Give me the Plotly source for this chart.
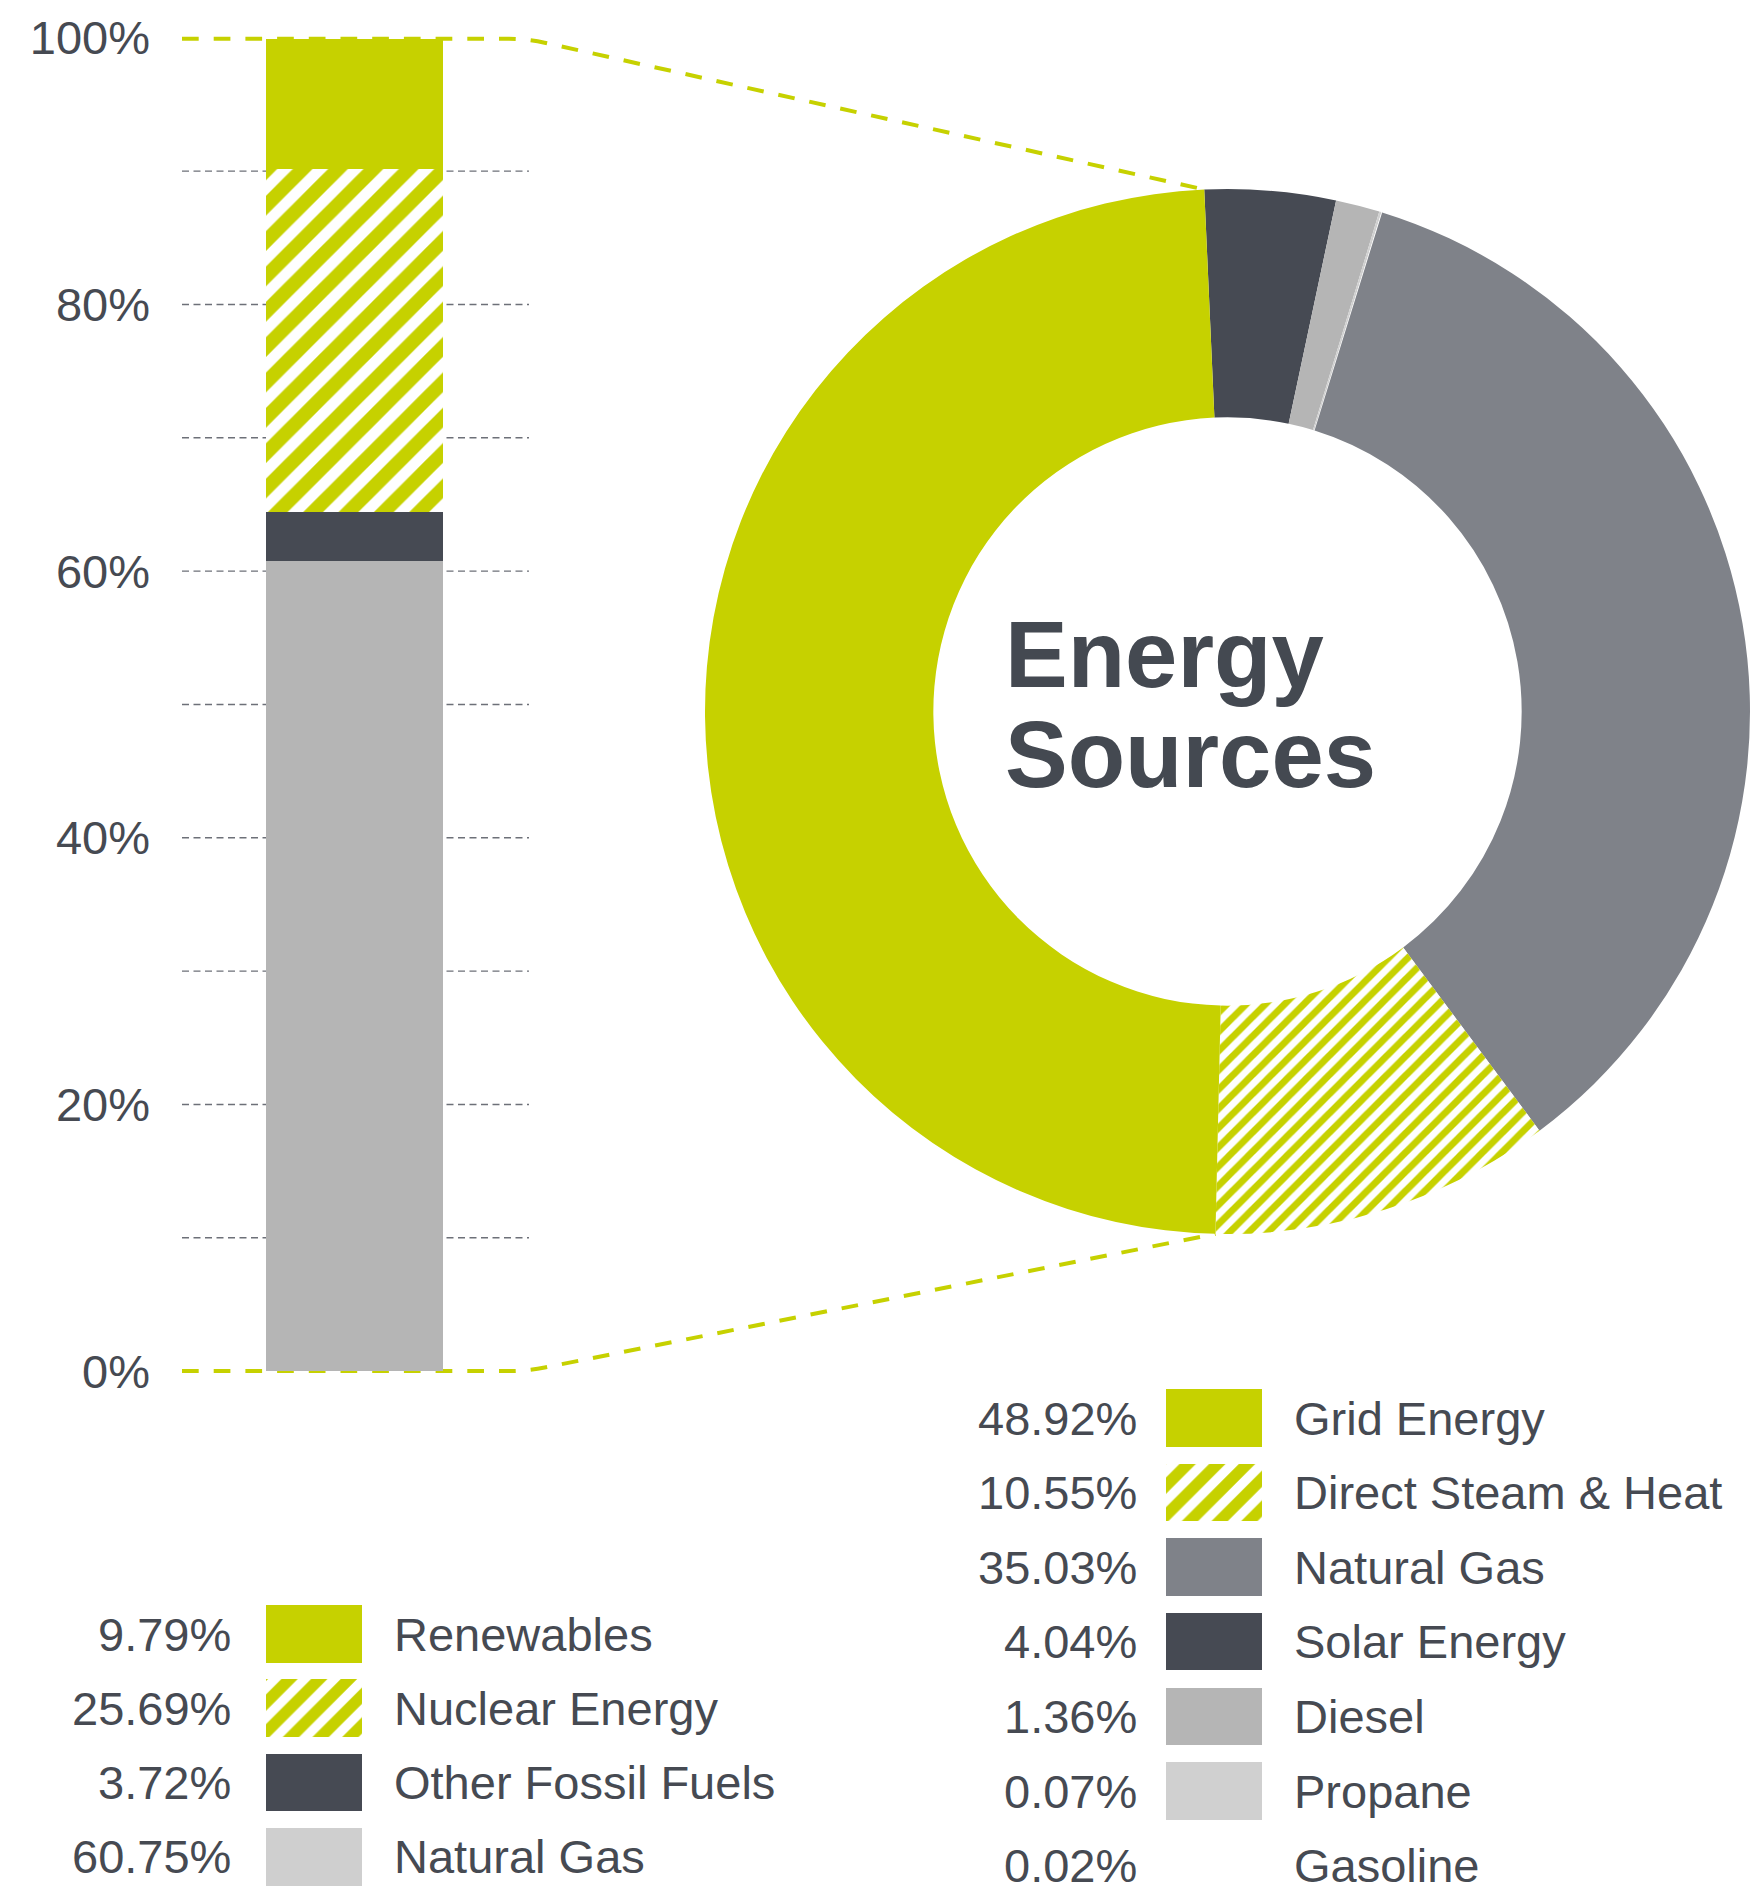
import math
import plotly.graph_objects as go

W, H = 1752, 1888

# ---------------- data ----------------
mix_labels = ["Renewables", "Nuclear Energy", "Other Fossil Fuels", "Natural Gas"]
mix_values = [9.79, 25.69, 3.72, 60.75]

source_labels = ["Grid Energy", "Direct Steam & Heat", "Natural Gas",
                 "Solar Energy", "Diesel", "Propane", "Gasoline"]
source_values = [48.92, 10.55, 35.03, 4.04, 1.36, 0.07, 0.02]

axis_ticks = [0, 20, 40, 60, 80, 100]
axis_tick_labels = ["0%", "20%", "40%", "60%", "80%", "100%"]
grid_levels = [10, 20, 30, 40, 50, 60, 70, 80, 90]

# ---------------- styles ----------------
LIME = "#c6d100"
SLATE = "#464a53"
TEXT = "#464a52"
FONT = "Liberation Sans"

mix_colors = [LIME, LIME, SLATE, "#b5b5b5"]
mix_legend_colors = [LIME, LIME, SLATE, "#cfcfcf"]
mix_hatched = [False, True, False, False]

source_colors = [LIME, LIME, "#7f8289", SLATE, "#b5b5b5", "#d0d0d0", "#ffffff"]
source_hatched = [False, True, False, False, False, False, False]
# clockwise drawing order of the ring, starting just left of 12 o'clock
ring_order = [3, 4, 5, 6, 2, 1, 0]
ring_rotation = -2.55


def px(x, y):
    """pixel position -> paper coordinates"""
    return x / W, 1 - y / H


# stacked bar geometry (pixels)
Y0_PX, Y100_PX = 1371.1, 37.8
X_AXIS_PX = 151
BAR_CENTER, BAR_WIDTH = 354.5, 177

# donut geometry (pixels)
PIE_X0, PIE_X1, PIE_TOP, PIE_BOTTOM = 705, 1750, 189, 1234
pie_dom_x = [PIE_X0 / W, PIE_X1 / W]
pie_dom_y = [1 - PIE_BOTTOM / H, 1 - PIE_TOP / H]

fig = go.Figure()

# ---------------- stacked bar ----------------
stack_order = [3, 2, 1, 0]  # bottom to top
for i in stack_order:
    fig.add_trace(go.Bar(
        x=[BAR_CENTER], y=[mix_values[i]], width=BAR_WIDTH,
        name=mix_labels[i], showlegend=False,
        marker=dict(
            color=mix_colors[i], line=dict(width=0),
            pattern=dict(shape="/" if mix_hatched[i] else "", size=25, solidity=0.56,
                         fgcolor=mix_colors[i], bgcolor="white", fillmode="replace"),
        ),
        xaxis="x", yaxis="y", hoverinfo="name+y",
    ))

# ---------------- donut ----------------
fig.add_trace(go.Pie(
    labels=[source_labels[i] for i in ring_order],
    values=[source_values[i] for i in ring_order],
    sort=False, direction="clockwise", rotation=ring_rotation,
    hole=0.563, textinfo="none", showlegend=False,
    domain=dict(x=pie_dom_x, y=pie_dom_y),
    marker=dict(
        colors=[source_colors[i] for i in ring_order],
        line=dict(width=0),
        pattern=dict(
            shape=["/" if source_hatched[i] else "" for i in ring_order],
            size=13.6, solidity=0.5, fgcolor=LIME, bgcolor="white", fillmode="replace",
        ),
    ),
))

# ---------------- legends (swatches as bars on a pixel axis) ----------------
LEFT_ROW0, LEFT_STEP = 1634, 74.3
RIGHT_ROW0, RIGHT_STEP = 1418, 74.6
SW_W, SW_H = 96, 57.5
LEFT_SW_X, RIGHT_SW_X = 266, 1166
LEFT_VAL_X, LEFT_LAB_X = 233, 392
RIGHT_VAL_X, RIGHT_LAB_X = 1139, 1292

left_rows = [LEFT_ROW0 + k * LEFT_STEP for k in range(len(mix_labels))]
right_rows = [RIGHT_ROW0 + k * RIGHT_STEP for k in range(len(source_labels))]

fig.add_trace(go.Bar(
    orientation="h", y=left_rows, x=[SW_W] * len(mix_labels), base=LEFT_SW_X,
    width=SW_H, showlegend=False, hoverinfo="skip", xaxis="x", yaxis="y2",
    marker=dict(
        color=mix_legend_colors, line=dict(width=0),
        pattern=dict(shape=["/" if h else "" for h in mix_hatched], size=21, solidity=0.55,
                     fgcolor=LIME, bgcolor="white", fillmode="replace"),
    ),
))
fig.add_trace(go.Bar(
    orientation="h", y=right_rows, x=[SW_W] * len(source_labels), base=RIGHT_SW_X,
    width=SW_H, showlegend=False, hoverinfo="skip", xaxis="x", yaxis="y2",
    marker=dict(
        color=source_colors, line=dict(width=0),
        pattern=dict(shape=["/" if h else "" for h in source_hatched], size=21, solidity=0.55,
                     fgcolor=LIME, bgcolor="white", fillmode="replace"),
    ),
))

annotations = []
legend_font = dict(family=FONT, size=47, color=TEXT)
for lab, val, yc in zip(mix_labels, mix_values, left_rows):
    annotations.append(dict(x=LEFT_VAL_X, y=yc, xref="x", yref="y2", text=f"{val:.2f}%",
                            xanchor="right", yanchor="middle", showarrow=False, font=legend_font))
    annotations.append(dict(x=LEFT_LAB_X, y=yc, xref="x", yref="y2", text=lab,
                            xanchor="left", yanchor="middle", showarrow=False, font=legend_font))
for lab, val, yc in zip(source_labels, source_values, right_rows):
    annotations.append(dict(x=RIGHT_VAL_X, y=yc, xref="x", yref="y2", text=f"{val:.2f}%",
                            xanchor="right", yanchor="middle", showarrow=False, font=legend_font))
    annotations.append(dict(x=RIGHT_LAB_X, y=yc, xref="x", yref="y2", text=lab.replace("&", "&amp;"),
                            xanchor="left", yanchor="middle", showarrow=False, font=legend_font))

# centre title of the donut
title_font = dict(family=FONT, size=94, color="#444951")
for word, ymid in (("Energy", 655), ("Sources", 754)):
    tx, ty = px(1003, ymid)
    annotations.append(dict(x=tx, y=ty, xref="paper", yref="paper", text=f"<b>{word}</b>",
                            xanchor="left", yanchor="middle", showarrow=False, font=title_font))

# ---------------- guide lines ----------------
shapes = []
for lvl in grid_levels:
    shapes.append(dict(type="line", xref="x", yref="y", x0=182, x1=529, y0=lvl, y1=lvl,
                       line=dict(color="#6d7078", width=1.4, dash="7px,4.5px"), layer="below"))

# connectors from the 100% / 0% marks to the edges of the Grid Energy arc
cx = W * (pie_dom_x[0] + pie_dom_x[1]) / 2
cy = H * (1 - (pie_dom_y[0] + pie_dom_y[1]) / 2)
R = min(W * (pie_dom_x[1] - pie_dom_x[0]), H * (pie_dom_y[1] - pie_dom_y[0])) / 2
total = sum(source_values)
theta_top = math.radians(ring_rotation)
theta_bot = math.radians(ring_rotation + 360 * (1 - source_values[0] / total))


def arc_point(theta):
    return cx + R * math.sin(theta), cy - R * math.cos(theta)


def connector(y_px, end):
    corner_x, rad = 527, 18
    ex, ey = end
    dx, dy = ex - corner_x, ey - y_px
    d = math.hypot(dx, dy)
    pts = [(182, y_px), (corner_x - rad, y_px), (corner_x, y_px),
           (corner_x + rad * dx / d, y_px + rad * dy / d), (ex, ey)]
    p = [px(*q) for q in pts]
    return (f"M{p[0][0]},{p[0][1]} L{p[1][0]},{p[1][1]} "
            f"Q{p[2][0]},{p[2][1]} {p[3][0]},{p[3][1]} L{p[4][0]},{p[4][1]}")


for y_px, th in ((Y100_PX + 1, theta_top), (Y0_PX, theta_bot)):
    shapes.append(dict(type="path", xref="paper", yref="paper", path=connector(y_px, arc_point(th)),
                       line=dict(color=LIME, width=4, dash="16.7px,15px"), layer="below"))

# ---------------- layout ----------------
x_dom0 = X_AXIS_PX / W
y_dom = [1 - Y0_PX / H, 1 - Y100_PX / H]
legend_dom_top = 1 - (Y0_PX + 1) / H

fig.update_layout(
    width=W, height=H,
    margin=dict(l=0, r=0, t=0, b=0, autoexpand=False),
    paper_bgcolor="white", plot_bgcolor="rgba(0,0,0,0)",
    barmode="stack", bargap=0, showlegend=False,
    xaxis=dict(domain=[x_dom0, 1], range=[X_AXIS_PX, W], visible=False, fixedrange=True,
               automargin=False),
    yaxis=dict(domain=y_dom, range=[0, 100], anchor="x", automargin=False,
               tickmode="array", tickvals=axis_ticks, ticktext=axis_tick_labels,
               tickfont=dict(family=FONT, size=47, color=TEXT),
               showgrid=False, zeroline=False, showline=False, ticks="", fixedrange=True),
    yaxis2=dict(domain=[0, legend_dom_top], range=[H, H * (1 - legend_dom_top)], anchor="x",
                visible=False, fixedrange=True, automargin=False),
    shapes=shapes,
    annotations=annotations,
    font=dict(family=FONT, color=TEXT),
)

fig.write_html("out.html")
